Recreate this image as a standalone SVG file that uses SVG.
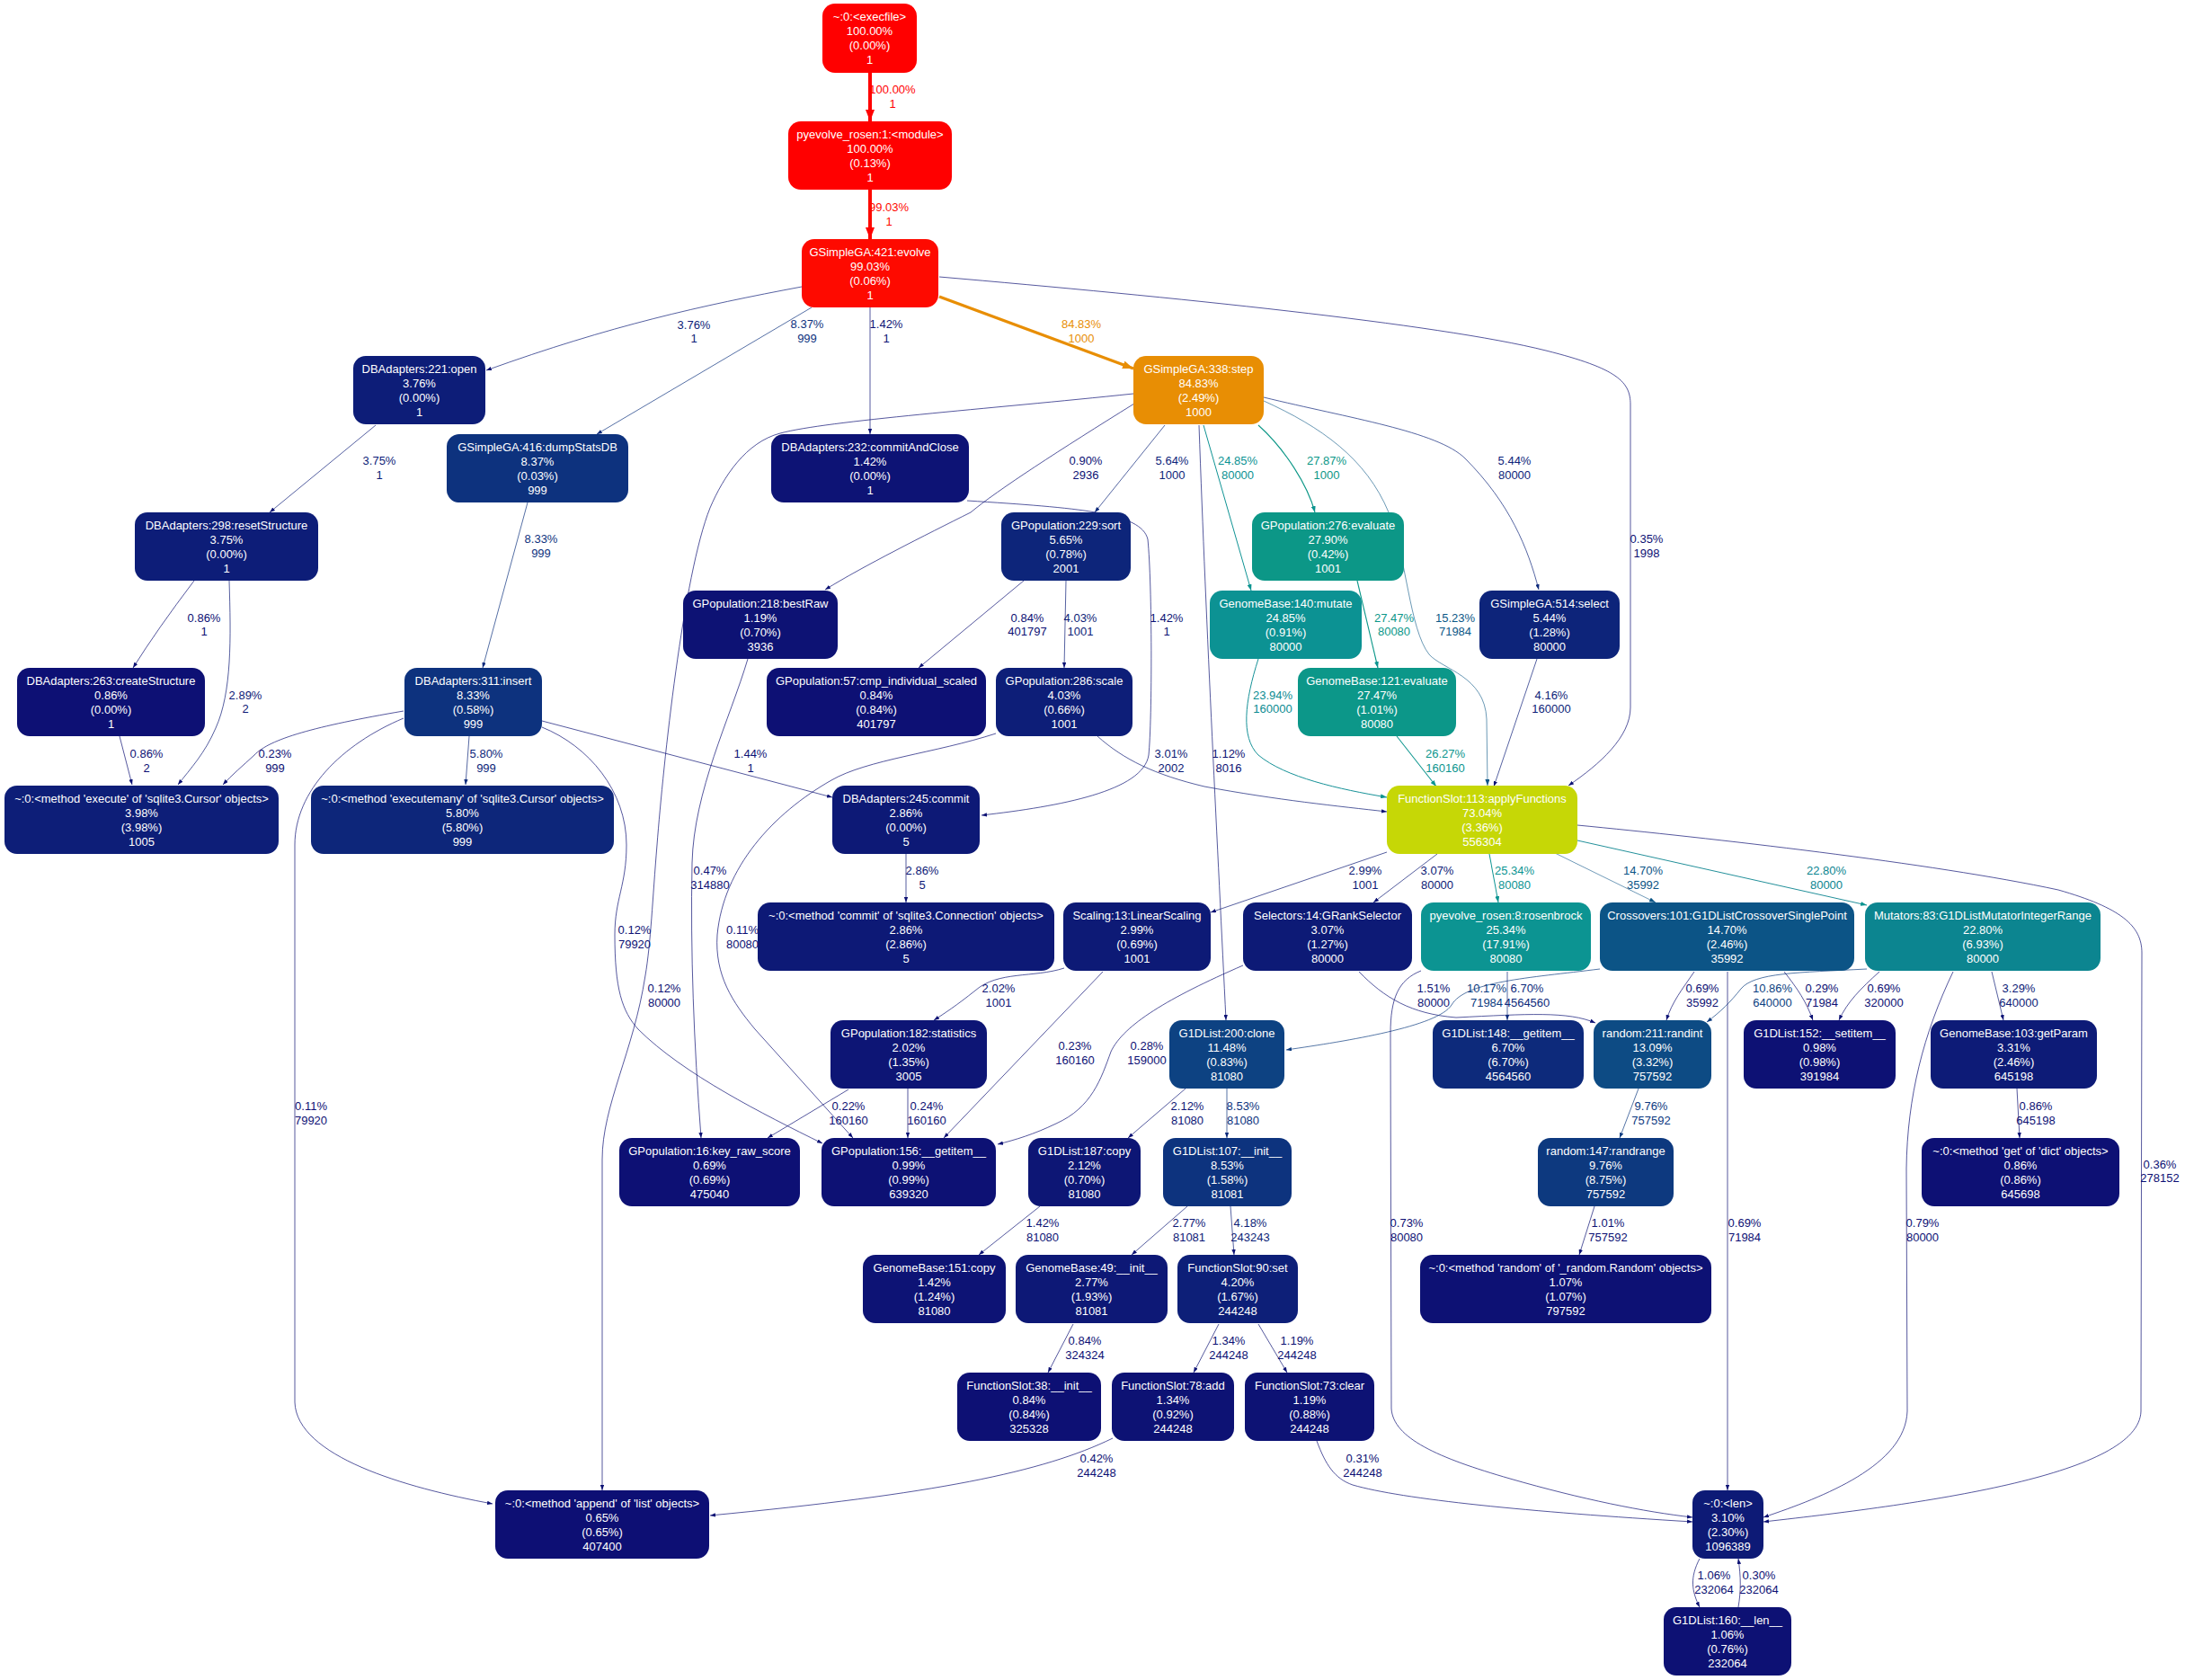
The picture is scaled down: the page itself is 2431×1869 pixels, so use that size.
<svg xmlns="http://www.w3.org/2000/svg" width="2431" height="1869" viewBox="0 0 2431 1869">
<style>
.n text{font-family:"Liberation Sans",Arial,sans-serif;font-size:13px;fill:#ffffff;text-anchor:middle}
.e path{fill:none}
.e text{font-family:"Liberation Sans",Arial,sans-serif;font-size:13px;text-anchor:middle}
</style>
<defs>
<marker id="aR" markerUnits="userSpaceOnUse" markerWidth="14" markerHeight="10" refX="13" refY="5" orient="auto"><path d="M0,0L13,5L0,10z" fill="#ff0000"/></marker>
<marker id="aO" markerUnits="userSpaceOnUse" markerWidth="12" markerHeight="9" refX="12" refY="4.5" orient="auto"><path d="M0,0L12,4.5L0,9z" fill="#e88e04"/></marker>
<marker id="aT" markerUnits="userSpaceOnUse" markerWidth="7" markerHeight="5" refX="7" refY="2.5" orient="auto"><path d="M0,0L7,2.5L0,5z" fill="#0c9490"/></marker>
<marker id="aTB" markerUnits="userSpaceOnUse" markerWidth="7" markerHeight="5" refX="7" refY="2.5" orient="auto"><path d="M0,0L7,2.5L0,5z" fill="#0c5586"/></marker>
<marker id="aB" markerUnits="userSpaceOnUse" markerWidth="6" markerHeight="4.4" refX="6" refY="2.2" orient="auto"><path d="M0,0L6,2.2L0,4.4z" fill="#0d1274"/></marker>
<marker id="aB2" markerUnits="userSpaceOnUse" markerWidth="6" markerHeight="4.4" refX="6" refY="2.2" orient="auto"><path d="M0,0L6,2.2L0,4.4z" fill="#0d2a7b"/></marker>
<marker id="aB3" markerUnits="userSpaceOnUse" markerWidth="6" markerHeight="4.4" refX="6" refY="2.2" orient="auto"><path d="M0,0L6,2.2L0,4.4z" fill="#0d3c80"/></marker>
</defs>
<rect x="0" y="0" width="2431" height="1869" fill="#ffffff"/>
<g id="edges" class="e">
<g id="e1"><path d="M968,81 L968,135" stroke="#ff0000" stroke-width="4" marker-end="url(#aR)"/><text x="993" y="104" fill="#ff0000">100.00%</text><text x="993" y="120" fill="#ff0000">1</text></g>
<g id="e2"><path d="M968,211 L968,266" stroke="#fe0a00" stroke-width="3.96" marker-end="url(#aR)"/><text x="989" y="235" fill="#fe0a00">99.03%</text><text x="989" y="251" fill="#fe0a00">1</text></g>
<g id="e3"><path d="M1045,330 L1261,410" stroke="#e88e04" stroke-width="3.39" marker-end="url(#aO)"/><text x="1203" y="365" fill="#e88e04">84.83%</text><text x="1203" y="381" fill="#e88e04">1000</text></g>
<g id="e4"><path d="M892,319 C780,340 680,362 541,412" stroke="#0d1d78" stroke-width="0.7" marker-end="url(#aB)"/><text x="772" y="366" fill="#0d1d78">3.76%</text><text x="772" y="381" fill="#0d1d78">1</text></g>
<g id="e5"><path d="M903,342 L664,483" stroke="#0d327e" stroke-width="0.7" marker-end="url(#aB2)"/><text x="898" y="365" fill="#0d327e">8.37%</text><text x="898" y="381" fill="#0d327e">999</text></g>
<g id="e6"><path d="M968,342 L968,483" stroke="#0d1375" stroke-width="0.7" marker-end="url(#aB)"/><text x="986" y="365" fill="#0d1375">1.42%</text><text x="986" y="381" fill="#0d1375">1</text></g>
<g id="e7"><path d="M1045,308 C1300,330 1600,360 1720,390 C1800,410 1814,425 1814,450 L1814,787 C1814,820 1780,850 1745,874" stroke="#0d1074" stroke-width="0.7" marker-end="url(#aB)"/><text x="1832" y="604" fill="#0d1074">0.35%</text><text x="1832" y="620" fill="#0d1074">1998</text></g>
<g id="e8"><path d="M418,473 L300,570" stroke="#0d1d78" stroke-width="0.7" marker-end="url(#aB)"/><text x="422" y="517" fill="#0d1d78">3.75%</text><text x="422" y="533" fill="#0d1d78">1</text></g>
<g id="e9"><path d="M587,559 L537,743" stroke="#0d327e" stroke-width="0.7" marker-end="url(#aB2)"/><text x="602" y="604" fill="#0d327e">8.33%</text><text x="602" y="620" fill="#0d327e">999</text></g>
<g id="e10"><path d="M1262,449 C1180,500 1110,545 1080,570 C1030,595 960,630 918,656" stroke="#0d1174" stroke-width="0.7" marker-end="url(#aB)"/><text x="1208" y="517" fill="#0d1174">0.90%</text><text x="1208" y="533" fill="#0d1174">2936</text></g>
<g id="e11"><path d="M1296,473 L1218,570" stroke="#0d257a" stroke-width="0.7" marker-end="url(#aB2)"/><text x="1304" y="517" fill="#0d257a">5.64%</text><text x="1304" y="533" fill="#0d257a">1000</text></g>
<g id="e12"><path d="M1339,473 L1392,657" stroke="#0c9293" stroke-width="0.99" marker-end="url(#aT)"/><text x="1377" y="517" fill="#0c9293">24.85%</text><text x="1377" y="533" fill="#0c9293">80000</text></g>
<g id="e13"><path d="M1400,473 C1430,500 1455,540 1463,570" stroke="#0c9787" stroke-width="1.11" marker-end="url(#aT)"/><text x="1476" y="517" fill="#0c9787">27.87%</text><text x="1476" y="533" fill="#0c9787">1000</text></g>
<g id="e14"><path d="M1406,442 C1500,465 1600,480 1630,510 C1680,560 1700,610 1712,656" stroke="#0d247a" stroke-width="0.7" marker-end="url(#aB2)"/><text x="1685" y="517" fill="#0d247a">5.44%</text><text x="1685" y="533" fill="#0d247a">80000</text></g>
<g id="e15"><path d="M1076,557 C1200,565 1270,570 1277,600 C1282,650 1282,800 1278,840 C1272,880 1180,897 1092,907" stroke="#0d1375" stroke-width="0.7" marker-end="url(#aB)"/><text x="1298" y="692" fill="#0d1375">1.42%</text><text x="1298" y="707" fill="#0d1375">1</text></g>
<g id="e16"><path d="M216,646 Q175,700 148,743" stroke="#0d1074" stroke-width="0.7" marker-end="url(#aB)"/><text x="227" y="692" fill="#0d1074">0.86%</text><text x="227" y="707" fill="#0d1074">1</text></g>
<g id="e17"><path d="M255,646 C257,710 258,770 240,810 C228,838 212,855 198,873" stroke="#0d1976" stroke-width="0.7" marker-end="url(#aB)"/><text x="273" y="778" fill="#0d1976">2.89%</text><text x="273" y="793" fill="#0d1976">2</text></g>
<g id="e18"><path d="M1139,646 L1022,743" stroke="#0d1074" stroke-width="0.7" marker-end="url(#aB)"/><text x="1143" y="692" fill="#0d1074">0.84%</text><text x="1143" y="707" fill="#0d1074">401797</text></g>
<g id="e19"><path d="M1186,646 L1184,743" stroke="#0d1e78" stroke-width="0.7" marker-end="url(#aB)"/><text x="1202" y="692" fill="#0d1e78">4.03%</text><text x="1202" y="707" fill="#0d1e78">1001</text></g>
<g id="e20"><path d="M1334,473 C1342,700 1355,950 1364,1135" stroke="#0d1274" stroke-width="0.7" marker-end="url(#aB)"/><text x="1367" y="843" fill="#0d1274">1.12%</text><text x="1367" y="859" fill="#0d1274">8016</text></g>
<g id="e21"><path d="M1510,646 L1533,743" stroke="#0c9789" stroke-width="1.1" marker-end="url(#aT)"/><text x="1551" y="692" fill="#0c9789">27.47%</text><text x="1551" y="707" fill="#0c9789">80080</text></g>
<g id="e22"><path d="M1406,446 C1470,475 1520,510 1545,570 C1565,620 1568,700 1590,728 C1605,745 1652,752 1654,800 L1655,874" stroke="#0c5786" stroke-width="0.61" marker-end="url(#aTB)"/><text x="1619" y="692" fill="#0c5786">15.23%</text><text x="1619" y="707" fill="#0c5786">71984</text></g>
<g id="e23"><path d="M1400,733 C1385,780 1380,820 1400,840 C1430,865 1490,878 1543,887" stroke="#0c8c92" stroke-width="0.96" marker-end="url(#aT)"/><text x="1416" y="778" fill="#0c8c92">23.94%</text><text x="1416" y="793" fill="#0c8c92">160000</text></g>
<g id="e24"><path d="M1710,733 L1662,875" stroke="#0d1e78" stroke-width="0.7" marker-end="url(#aB)"/><text x="1726" y="778" fill="#0d1e78">4.16%</text><text x="1726" y="793" fill="#0d1e78">160000</text></g>
<g id="e25"><path d="M133,819 L147,873" stroke="#0d1074" stroke-width="0.7" marker-end="url(#aB)"/><text x="163" y="843" fill="#0d1074">0.86%</text><text x="163" y="859" fill="#0d1074">2</text></g>
<g id="e26"><path d="M449,791 C350,808 300,822 283,840 C270,852 258,862 248,873" stroke="#0d1074" stroke-width="0.7" marker-end="url(#aB)"/><text x="306" y="843" fill="#0d1074">0.23%</text><text x="306" y="859" fill="#0d1074">999</text></g>
<g id="e27"><path d="M522,819 L518,873" stroke="#0d267a" stroke-width="0.7" marker-end="url(#aB2)"/><text x="541" y="843" fill="#0d267a">5.80%</text><text x="541" y="859" fill="#0d267a">999</text></g>
<g id="e28"><path d="M603,802 L926,887" stroke="#0d1375" stroke-width="0.7" marker-end="url(#aB)"/><text x="835" y="843" fill="#0d1375">1.44%</text><text x="835" y="859" fill="#0d1375">1</text></g>
<g id="e29"><path d="M1221,819 C1250,845 1285,862 1340,875 C1420,890 1490,897 1543,903" stroke="#0d1a76" stroke-width="0.7" marker-end="url(#aB)"/><text x="1303" y="843" fill="#0d1a76">3.01%</text><text x="1303" y="859" fill="#0d1a76">2002</text></g>
<g id="e30"><path d="M1554,819 L1598,875" stroke="#0c958e" stroke-width="1.05" marker-end="url(#aT)"/><text x="1608" y="843" fill="#0c958e">26.27%</text><text x="1608" y="859" fill="#0c958e">160160</text></g>
<g id="e31"><path d="M832,733 C812,800 772,880 770,960 C768,1060 772,1160 780,1266" stroke="#0d1074" stroke-width="0.7" marker-end="url(#aB)"/><text x="790" y="973" fill="#0d1074">0.47%</text><text x="790" y="989" fill="#0d1074">314880</text></g>
<g id="e32"><path d="M603,809 C655,830 697,880 697,940 C697,985 684,1000 684,1040 C684,1100 692,1125 710,1145 C760,1195 850,1240 915,1272" stroke="#0d1074" stroke-width="0.7" marker-end="url(#aB)"/><text x="706" y="1039" fill="#0d1074">0.12%</text><text x="706" y="1055" fill="#0d1074">79920</text></g>
<g id="e33"><path d="M1261,438 C1100,455 920,468 868,482 C830,492 805,530 790,565 C760,640 738,850 731,940 C726,1000 724,1050 718,1085 C705,1170 670,1230 670,1290 L670,1658" stroke="#0d1074" stroke-width="0.7" marker-end="url(#aB)"/><text x="739" y="1104" fill="#0d1074">0.12%</text><text x="739" y="1120" fill="#0d1074">80000</text></g>
<g id="e34"><path d="M1108,816 C1040,838 965,845 925,868 C860,905 805,965 798,1040 C795,1085 815,1115 840,1145 L949,1266" stroke="#0d1074" stroke-width="0.7" marker-end="url(#aB)"/><text x="826" y="1039" fill="#0d1074">0.11%</text><text x="826" y="1055" fill="#0d1074">80080</text></g>
<g id="e35"><path d="M449,799 C380,828 328,880 328,940 L328,1560 C330,1620 450,1655 548,1673" stroke="#0d1074" stroke-width="0.7" marker-end="url(#aB)"/><text x="346" y="1235" fill="#0d1074">0.11%</text><text x="346" y="1251" fill="#0d1074">79920</text></g>
<g id="e36"><path d="M1008,950 L1008,1004" stroke="#0d1976" stroke-width="0.7" marker-end="url(#aB)"/><text x="1026" y="973" fill="#0d1976">2.86%</text><text x="1026" y="989" fill="#0d1976">5</text></g>
<g id="e37"><path d="M1543,948 L1347,1015" stroke="#0d1a76" stroke-width="0.7" marker-end="url(#aB)"/><text x="1519" y="973" fill="#0d1a76">2.99%</text><text x="1519" y="989" fill="#0d1a76">1001</text></g>
<g id="e38"><path d="M1599,950 L1528,1004" stroke="#0d1a76" stroke-width="0.7" marker-end="url(#aB)"/><text x="1599" y="973" fill="#0d1a76">3.07%</text><text x="1599" y="989" fill="#0d1a76">80000</text></g>
<g id="e39"><path d="M1657,950 L1667,1004" stroke="#0c9492" stroke-width="1.01" marker-end="url(#aT)"/><text x="1685" y="973" fill="#0c9492">25.34%</text><text x="1685" y="989" fill="#0c9492">80080</text></g>
<g id="e40"><path d="M1728,948 L1842,1004" stroke="#0c5486" stroke-width="0.59" marker-end="url(#aTB)"/><text x="1828" y="973" fill="#0c5486">14.70%</text><text x="1828" y="989" fill="#0c5486">35992</text></g>
<g id="e41"><path d="M1755,935 L2077,1007" stroke="#0c8590" stroke-width="0.91" marker-end="url(#aT)"/><text x="2032" y="973" fill="#0c8590">22.80%</text><text x="2032" y="989" fill="#0c8590">80000</text></g>
<g id="e42"><path d="M1184,1077 C1150,1088 1110,1080 1085,1102 C1065,1118 1050,1128 1039,1135" stroke="#0d1575" stroke-width="0.7" marker-end="url(#aB)"/><text x="1111" y="1104" fill="#0d1575">2.02%</text><text x="1111" y="1120" fill="#0d1575">1001</text></g>
<g id="e43"><path d="M1227,1081 L1050,1266" stroke="#0d1074" stroke-width="0.7" marker-end="url(#aB)"/><text x="1196" y="1168" fill="#0d1074">0.23%</text><text x="1196" y="1184" fill="#0d1074">160160</text></g>
<g id="e44"><path d="M1383,1074 C1300,1110 1250,1140 1236,1170 C1225,1200 1215,1232 1175,1250 C1150,1262 1130,1268 1110,1273" stroke="#0d1074" stroke-width="0.7" marker-end="url(#aB)"/><text x="1276" y="1168" fill="#0d1074">0.28%</text><text x="1276" y="1184" fill="#0d1074">159000</text></g>
<g id="e45"><path d="M1512,1081 C1540,1110 1570,1128 1620,1132 C1700,1128 1745,1125 1775,1138" stroke="#0d1375" stroke-width="0.7" marker-end="url(#aB)"/><text x="1595" y="1104" fill="#0d1375">1.51%</text><text x="1595" y="1120" fill="#0d1375">80000</text></g>
<g id="e46"><path d="M1780,1078 C1700,1088 1630,1092 1615,1118 C1600,1142 1500,1158 1431,1168" stroke="#0d3c80" stroke-width="0.7" marker-end="url(#aB3)"/><text x="1654" y="1104" fill="#0d3c80">10.17%</text><text x="1654" y="1120" fill="#0d3c80">71984</text></g>
<g id="e47"><path d="M1677,1081 L1677,1135" stroke="#0d2a7b" stroke-width="0.7" marker-end="url(#aB2)"/><text x="1699" y="1104" fill="#0d2a7b">6.70%</text><text x="1699" y="1120" fill="#0d2a7b">4564560</text></g>
<g id="e48"><path d="M1885,1081 C1872,1100 1860,1115 1854,1135" stroke="#0d1074" stroke-width="0.7" marker-end="url(#aB)"/><text x="1894" y="1104" fill="#0d1074">0.69%</text><text x="1894" y="1120" fill="#0d1074">35992</text></g>
<g id="e49"><path d="M2077,1078 C2000,1082 1952,1082 1937,1100 C1925,1115 1915,1125 1899,1137" stroke="#0d3f81" stroke-width="0.7" marker-end="url(#aB3)"/><text x="1972" y="1104" fill="#0d3f81">10.86%</text><text x="1972" y="1120" fill="#0d3f81">640000</text></g>
<g id="e50"><path d="M1985,1081 C2000,1100 2010,1115 2017,1135" stroke="#0d1074" stroke-width="0.7" marker-end="url(#aB)"/><text x="2027" y="1104" fill="#0d1074">0.29%</text><text x="2027" y="1120" fill="#0d1074">71984</text></g>
<g id="e51"><path d="M2091,1081 C2070,1100 2055,1115 2046,1135" stroke="#0d1074" stroke-width="0.7" marker-end="url(#aB)"/><text x="2096" y="1104" fill="#0d1074">0.69%</text><text x="2096" y="1120" fill="#0d1074">320000</text></g>
<g id="e52"><path d="M2216,1081 L2229,1135" stroke="#0d1b77" stroke-width="0.7" marker-end="url(#aB)"/><text x="2246" y="1104" fill="#0d1b77">3.29%</text><text x="2246" y="1120" fill="#0d1b77">640000</text></g>
<g id="e53"><path d="M944,1212 L854,1266" stroke="#0d1074" stroke-width="0.7" marker-end="url(#aB)"/><text x="944" y="1235" fill="#0d1074">0.22%</text><text x="944" y="1251" fill="#0d1074">160160</text></g>
<g id="e54"><path d="M1010,1211 L1010,1266" stroke="#0d1074" stroke-width="0.7" marker-end="url(#aB)"/><text x="1031" y="1235" fill="#0d1074">0.24%</text><text x="1031" y="1251" fill="#0d1074">160160</text></g>
<g id="e55"><path d="M1319,1211 L1255,1266" stroke="#0d1675" stroke-width="0.7" marker-end="url(#aB)"/><text x="1321" y="1235" fill="#0d1675">2.12%</text><text x="1321" y="1251" fill="#0d1675">81080</text></g>
<g id="e56"><path d="M1365,1211 L1365,1266" stroke="#0d337e" stroke-width="0.7" marker-end="url(#aB2)"/><text x="1383" y="1235" fill="#0d337e">8.53%</text><text x="1383" y="1251" fill="#0d337e">81080</text></g>
<g id="e57"><path d="M1823,1211 L1802,1266" stroke="#0d397f" stroke-width="0.7" marker-end="url(#aB3)"/><text x="1837" y="1235" fill="#0d397f">9.76%</text><text x="1837" y="1251" fill="#0d397f">757592</text></g>
<g id="e58"><path d="M2244,1211 L2247,1266" stroke="#0d1074" stroke-width="0.7" marker-end="url(#aB)"/><text x="2265" y="1235" fill="#0d1074">0.86%</text><text x="2265" y="1251" fill="#0d1074">645198</text></g>
<g id="e59"><path d="M1157,1342 L1089,1396" stroke="#0d1375" stroke-width="0.7" marker-end="url(#aB)"/><text x="1160" y="1365" fill="#0d1375">1.42%</text><text x="1160" y="1381" fill="#0d1375">81080</text></g>
<g id="e60"><path d="M1321,1342 L1259,1396" stroke="#0d1876" stroke-width="0.7" marker-end="url(#aB)"/><text x="1323" y="1365" fill="#0d1876">2.77%</text><text x="1323" y="1381" fill="#0d1876">81081</text></g>
<g id="e61"><path d="M1369,1342 L1373,1396" stroke="#0d1f78" stroke-width="0.7" marker-end="url(#aB)"/><text x="1391" y="1365" fill="#0d1f78">4.18%</text><text x="1391" y="1381" fill="#0d1f78">243243</text></g>
<g id="e62"><path d="M1774,1342 L1757,1396" stroke="#0d1274" stroke-width="0.7" marker-end="url(#aB)"/><text x="1789" y="1365" fill="#0d1274">1.01%</text><text x="1789" y="1381" fill="#0d1274">757592</text></g>
<g id="e63"><path d="M1581,1080 C1556,1090 1547,1110 1547,1150 L1548,1567 C1550,1600 1600,1622 1680,1645 C1760,1668 1830,1682 1883,1688" stroke="#0d1074" stroke-width="0.7" marker-end="url(#aB)"/><text x="1565" y="1365" fill="#0d1074">0.73%</text><text x="1565" y="1381" fill="#0d1074">80080</text></g>
<g id="e64"><path d="M1922,1081 L1922,1658" stroke="#0d1074" stroke-width="0.7" marker-end="url(#aB)"/><text x="1941" y="1365" fill="#0d1074">0.69%</text><text x="1941" y="1381" fill="#0d1074">71984</text></g>
<g id="e65"><path d="M2173,1081 C2140,1150 2122,1220 2121,1300 L2122,1570 C2120,1630 2030,1665 1962,1688" stroke="#0d1074" stroke-width="0.7" marker-end="url(#aB)"/><text x="2139" y="1365" fill="#0d1074">0.79%</text><text x="2139" y="1381" fill="#0d1074">80000</text></g>
<g id="e66"><path d="M1755,918 C1900,932 2150,960 2290,990 C2360,1010 2383,1030 2383,1060 L2382,1570 C2380,1640 2150,1672 1962,1693" stroke="#0d1074" stroke-width="0.7" marker-end="url(#aB)"/><text x="2403" y="1300" fill="#0d1074">0.36%</text><text x="2403" y="1315" fill="#0d1074">278152</text></g>
<g id="e67"><path d="M1194,1473 L1166,1527" stroke="#0d1074" stroke-width="0.7" marker-end="url(#aB)"/><text x="1207" y="1496" fill="#0d1074">0.84%</text><text x="1207" y="1512" fill="#0d1074">324324</text></g>
<g id="e68"><path d="M1356,1473 L1328,1527" stroke="#0d1274" stroke-width="0.7" marker-end="url(#aB)"/><text x="1367" y="1496" fill="#0d1274">1.34%</text><text x="1367" y="1512" fill="#0d1274">244248</text></g>
<g id="e69"><path d="M1400,1473 L1432,1527" stroke="#0d1274" stroke-width="0.7" marker-end="url(#aB)"/><text x="1443" y="1496" fill="#0d1274">1.19%</text><text x="1443" y="1512" fill="#0d1274">244248</text></g>
<g id="e70"><path d="M1238,1600 C1160,1638 1040,1662 790,1686" stroke="#0d1074" stroke-width="0.7" marker-end="url(#aB)"/><text x="1220" y="1627" fill="#0d1074">0.42%</text><text x="1220" y="1643" fill="#0d1074">244248</text></g>
<g id="e71"><path d="M1465,1603 C1475,1630 1485,1645 1505,1652 C1560,1668 1700,1682 1883,1693" stroke="#0d1074" stroke-width="0.7" marker-end="url(#aB)"/><text x="1516" y="1627" fill="#0d1074">0.31%</text><text x="1516" y="1643" fill="#0d1074">244248</text></g>
<g id="e72"><path d="M1891,1734 C1880,1755 1882,1770 1891,1788" stroke="#0d1274" stroke-width="0.7" marker-end="url(#aB)"/><text x="1907" y="1757" fill="#0d1274">1.06%</text><text x="1907" y="1773" fill="#0d1274">232064</text></g>
<g id="e73"><path d="M1934,1788 C1937,1770 1937,1755 1934,1734" stroke="#0d1074" stroke-width="0.7" marker-end="url(#aB)"/><text x="1957" y="1757" fill="#0d1074">0.30%</text><text x="1957" y="1773" fill="#0d1074">232064</text></g>
</g>
<g id="nodes" class="n">
<g id="n_execfile"><rect x="915" y="4" width="105" height="77" rx="14" fill="#ff0000"/><text x="967.5" y="22.5">~:0:&lt;execfile&gt;</text><text x="967.5" y="38.5">100.00%</text><text x="967.5" y="54.5">(0.00%)</text><text x="967.5" y="70.5">1</text></g>
<g id="n_module"><rect x="877" y="135" width="182" height="76" rx="14" fill="#ff0000"/><text x="968" y="153.5">pyevolve_rosen:1:&lt;module&gt;</text><text x="968" y="169.5">100.00%</text><text x="968" y="185.5">(0.13%)</text><text x="968" y="201.5">1</text></g>
<g id="n_evolve"><rect x="892" y="266" width="152" height="76" rx="14" fill="#fe0a00"/><text x="968" y="284.5">GSimpleGA:421:evolve</text><text x="968" y="300.5">99.03%</text><text x="968" y="316.5">(0.06%)</text><text x="968" y="332.5">1</text></g>
<g id="n_open"><rect x="393" y="396" width="147" height="76" rx="14" fill="#0d1d78"/><text x="466.5" y="414.5">DBAdapters:221:open</text><text x="466.5" y="430.5">3.76%</text><text x="466.5" y="446.5">(0.00%)</text><text x="466.5" y="462.5">1</text></g>
<g id="n_step"><rect x="1261" y="396" width="145" height="76" rx="14" fill="#e88e04"/><text x="1333.5" y="414.5">GSimpleGA:338:step</text><text x="1333.5" y="430.5">84.83%</text><text x="1333.5" y="446.5">(2.49%)</text><text x="1333.5" y="462.5">1000</text></g>
<g id="n_dumpStatsDB"><rect x="497" y="483" width="202" height="76" rx="14" fill="#0d327e"/><text x="598" y="501.5">GSimpleGA:416:dumpStatsDB</text><text x="598" y="517.5">8.37%</text><text x="598" y="533.5">(0.03%)</text><text x="598" y="549.5">999</text></g>
<g id="n_commitAndClose"><rect x="858" y="483" width="220" height="76" rx="14" fill="#0d1375"/><text x="968" y="501.5">DBAdapters:232:commitAndClose</text><text x="968" y="517.5">1.42%</text><text x="968" y="533.5">(0.00%)</text><text x="968" y="549.5">1</text></g>
<g id="n_resetStructure"><rect x="150" y="570" width="204" height="76" rx="14" fill="#0d1d78"/><text x="252" y="588.5">DBAdapters:298:resetStructure</text><text x="252" y="604.5">3.75%</text><text x="252" y="620.5">(0.00%)</text><text x="252" y="636.5">1</text></g>
<g id="n_sort"><rect x="1114" y="570" width="144" height="76" rx="14" fill="#0d257a"/><text x="1186" y="588.5">GPopulation:229:sort</text><text x="1186" y="604.5">5.65%</text><text x="1186" y="620.5">(0.78%)</text><text x="1186" y="636.5">2001</text></g>
<g id="n_gp276"><rect x="1393" y="570" width="169" height="76" rx="14" fill="#0c9787"/><text x="1477.5" y="588.5">GPopulation:276:evaluate</text><text x="1477.5" y="604.5">27.90%</text><text x="1477.5" y="620.5">(0.42%)</text><text x="1477.5" y="636.5">1001</text></g>
<g id="n_bestRaw"><rect x="760" y="657" width="172" height="76" rx="14" fill="#0d1274"/><text x="846" y="675.5">GPopulation:218:bestRaw</text><text x="846" y="691.5">1.19%</text><text x="846" y="707.5">(0.70%)</text><text x="846" y="723.5">3936</text></g>
<g id="n_mutate"><rect x="1346" y="657" width="169" height="76" rx="14" fill="#0c9293"/><text x="1430.5" y="675.5">GenomeBase:140:mutate</text><text x="1430.5" y="691.5">24.85%</text><text x="1430.5" y="707.5">(0.91%)</text><text x="1430.5" y="723.5">80000</text></g>
<g id="n_select"><rect x="1646" y="657" width="156" height="76" rx="14" fill="#0d247a"/><text x="1724" y="675.5">GSimpleGA:514:select</text><text x="1724" y="691.5">5.44%</text><text x="1724" y="707.5">(1.28%)</text><text x="1724" y="723.5">80000</text></g>
<g id="n_createStructure"><rect x="19" y="743" width="209" height="76" rx="14" fill="#0d1074"/><text x="123.5" y="761.5">DBAdapters:263:createStructure</text><text x="123.5" y="777.5">0.86%</text><text x="123.5" y="793.5">(0.00%)</text><text x="123.5" y="809.5">1</text></g>
<g id="n_insert"><rect x="450" y="743" width="153" height="76" rx="14" fill="#0d327e"/><text x="526.5" y="761.5">DBAdapters:311:insert</text><text x="526.5" y="777.5">8.33%</text><text x="526.5" y="793.5">(0.58%)</text><text x="526.5" y="809.5">999</text></g>
<g id="n_cmp"><rect x="853" y="743" width="244" height="76" rx="14" fill="#0d1074"/><text x="975" y="761.5">GPopulation:57:cmp_individual_scaled</text><text x="975" y="777.5">0.84%</text><text x="975" y="793.5">(0.84%)</text><text x="975" y="809.5">401797</text></g>
<g id="n_scale"><rect x="1108" y="743" width="152" height="76" rx="14" fill="#0d1e78"/><text x="1184" y="761.5">GPopulation:286:scale</text><text x="1184" y="777.5">4.03%</text><text x="1184" y="793.5">(0.66%)</text><text x="1184" y="809.5">1001</text></g>
<g id="n_gb121"><rect x="1444" y="743" width="176" height="76" rx="14" fill="#0c9789"/><text x="1532" y="761.5">GenomeBase:121:evaluate</text><text x="1532" y="777.5">27.47%</text><text x="1532" y="793.5">(1.01%)</text><text x="1532" y="809.5">80080</text></g>
<g id="n_execute"><rect x="5" y="874" width="305" height="76" rx="14" fill="#0d1e78"/><text x="157.5" y="892.5">~:0:&lt;method 'execute' of 'sqlite3.Cursor' objects&gt;</text><text x="157.5" y="908.5">3.98%</text><text x="157.5" y="924.5">(3.98%)</text><text x="157.5" y="940.5">1005</text></g>
<g id="n_executemany"><rect x="346" y="874" width="337" height="76" rx="14" fill="#0d267a"/><text x="514.5" y="892.5">~:0:&lt;method 'executemany' of 'sqlite3.Cursor' objects&gt;</text><text x="514.5" y="908.5">5.80%</text><text x="514.5" y="924.5">(5.80%)</text><text x="514.5" y="940.5">999</text></g>
<g id="n_commit245"><rect x="926" y="874" width="164" height="76" rx="14" fill="#0d1976"/><text x="1008" y="892.5">DBAdapters:245:commit</text><text x="1008" y="908.5">2.86%</text><text x="1008" y="924.5">(0.00%)</text><text x="1008" y="940.5">5</text></g>
<g id="n_applyFunctions"><rect x="1543" y="874" width="212" height="76" rx="14" fill="#c6d706"/><text x="1649" y="892.5">FunctionSlot:113:applyFunctions</text><text x="1649" y="908.5">73.04%</text><text x="1649" y="924.5">(3.36%)</text><text x="1649" y="940.5">556304</text></g>
<g id="n_commitConn"><rect x="843" y="1004" width="330" height="76" rx="14" fill="#0d1976"/><text x="1008" y="1022.5">~:0:&lt;method 'commit' of 'sqlite3.Connection' objects&gt;</text><text x="1008" y="1038.5">2.86%</text><text x="1008" y="1054.5">(2.86%)</text><text x="1008" y="1070.5">5</text></g>
<g id="n_linearScaling"><rect x="1183" y="1004" width="164" height="76" rx="14" fill="#0d1a76"/><text x="1265" y="1022.5">Scaling:13:LinearScaling</text><text x="1265" y="1038.5">2.99%</text><text x="1265" y="1054.5">(0.69%)</text><text x="1265" y="1070.5">1001</text></g>
<g id="n_grank"><rect x="1383" y="1004" width="188" height="76" rx="14" fill="#0d1a76"/><text x="1477" y="1022.5">Selectors:14:GRankSelector</text><text x="1477" y="1038.5">3.07%</text><text x="1477" y="1054.5">(1.27%)</text><text x="1477" y="1070.5">80000</text></g>
<g id="n_rosenbrock"><rect x="1581" y="1004" width="189" height="76" rx="14" fill="#0c9492"/><text x="1675.5" y="1022.5">pyevolve_rosen:8:rosenbrock</text><text x="1675.5" y="1038.5">25.34%</text><text x="1675.5" y="1054.5">(17.91%)</text><text x="1675.5" y="1070.5">80080</text></g>
<g id="n_crossovers"><rect x="1780" y="1004" width="283" height="76" rx="14" fill="#0c5486"/><text x="1921.5" y="1022.5">Crossovers:101:G1DListCrossoverSinglePoint</text><text x="1921.5" y="1038.5">14.70%</text><text x="1921.5" y="1054.5">(2.46%)</text><text x="1921.5" y="1070.5">35992</text></g>
<g id="n_mutators"><rect x="2075" y="1004" width="262" height="76" rx="14" fill="#0c8590"/><text x="2206" y="1022.5">Mutators:83:G1DListMutatorIntegerRange</text><text x="2206" y="1038.5">22.80%</text><text x="2206" y="1054.5">(6.93%)</text><text x="2206" y="1070.5">80000</text></g>
<g id="n_statistics"><rect x="924" y="1135" width="174" height="76" rx="14" fill="#0d1575"/><text x="1011" y="1153.5">GPopulation:182:statistics</text><text x="1011" y="1169.5">2.02%</text><text x="1011" y="1185.5">(1.35%)</text><text x="1011" y="1201.5">3005</text></g>
<g id="n_clone"><rect x="1301" y="1135" width="128" height="76" rx="14" fill="#0d4282"/><text x="1365" y="1153.5">G1DList:200:clone</text><text x="1365" y="1169.5">11.48%</text><text x="1365" y="1185.5">(0.83%)</text><text x="1365" y="1201.5">81080</text></g>
<g id="n_getitem148"><rect x="1594" y="1135" width="168" height="76" rx="14" fill="#0d2a7b"/><text x="1678" y="1153.5">G1DList:148:__getitem__</text><text x="1678" y="1169.5">6.70%</text><text x="1678" y="1185.5">(6.70%)</text><text x="1678" y="1201.5">4564560</text></g>
<g id="n_randint"><rect x="1773" y="1135" width="131" height="76" rx="14" fill="#0d4b84"/><text x="1838.5" y="1153.5">random:211:randint</text><text x="1838.5" y="1169.5">13.09%</text><text x="1838.5" y="1185.5">(3.32%)</text><text x="1838.5" y="1201.5">757592</text></g>
<g id="n_setitem"><rect x="1940" y="1135" width="169" height="76" rx="14" fill="#0d1174"/><text x="2024.5" y="1153.5">G1DList:152:__setitem__</text><text x="2024.5" y="1169.5">0.98%</text><text x="2024.5" y="1185.5">(0.98%)</text><text x="2024.5" y="1201.5">391984</text></g>
<g id="n_getParam"><rect x="2148" y="1135" width="185" height="76" rx="14" fill="#0d1b77"/><text x="2240.5" y="1153.5">GenomeBase:103:getParam</text><text x="2240.5" y="1169.5">3.31%</text><text x="2240.5" y="1185.5">(2.46%)</text><text x="2240.5" y="1201.5">645198</text></g>
<g id="n_keyraw"><rect x="689" y="1266" width="201" height="76" rx="14" fill="#0d1074"/><text x="789.5" y="1284.5">GPopulation:16:key_raw_score</text><text x="789.5" y="1300.5">0.69%</text><text x="789.5" y="1316.5">(0.69%)</text><text x="789.5" y="1332.5">475040</text></g>
<g id="n_gp156"><rect x="914" y="1266" width="194" height="76" rx="14" fill="#0d1174"/><text x="1011" y="1284.5">GPopulation:156:__getitem__</text><text x="1011" y="1300.5">0.99%</text><text x="1011" y="1316.5">(0.99%)</text><text x="1011" y="1332.5">639320</text></g>
<g id="n_copy187"><rect x="1144" y="1266" width="125" height="76" rx="14" fill="#0d1675"/><text x="1206.5" y="1284.5">G1DList:187:copy</text><text x="1206.5" y="1300.5">2.12%</text><text x="1206.5" y="1316.5">(0.70%)</text><text x="1206.5" y="1332.5">81080</text></g>
<g id="n_init107"><rect x="1294" y="1266" width="143" height="76" rx="14" fill="#0d337e"/><text x="1365.5" y="1284.5">G1DList:107:__init__</text><text x="1365.5" y="1300.5">8.53%</text><text x="1365.5" y="1316.5">(1.58%)</text><text x="1365.5" y="1332.5">81081</text></g>
<g id="n_randrange"><rect x="1711" y="1266" width="151" height="76" rx="14" fill="#0d397f"/><text x="1786.5" y="1284.5">random:147:randrange</text><text x="1786.5" y="1300.5">9.76%</text><text x="1786.5" y="1316.5">(8.75%)</text><text x="1786.5" y="1332.5">757592</text></g>
<g id="n_getdict"><rect x="2138" y="1266" width="220" height="76" rx="14" fill="#0d1074"/><text x="2248" y="1284.5">~:0:&lt;method 'get' of 'dict' objects&gt;</text><text x="2248" y="1300.5">0.86%</text><text x="2248" y="1316.5">(0.86%)</text><text x="2248" y="1332.5">645698</text></g>
<g id="n_gb151"><rect x="960" y="1396" width="159" height="76" rx="14" fill="#0d1375"/><text x="1039.5" y="1414.5">GenomeBase:151:copy</text><text x="1039.5" y="1430.5">1.42%</text><text x="1039.5" y="1446.5">(1.24%)</text><text x="1039.5" y="1462.5">81080</text></g>
<g id="n_gb49"><rect x="1130" y="1396" width="169" height="76" rx="14" fill="#0d1876"/><text x="1214.5" y="1414.5">GenomeBase:49:__init__</text><text x="1214.5" y="1430.5">2.77%</text><text x="1214.5" y="1446.5">(1.93%)</text><text x="1214.5" y="1462.5">81081</text></g>
<g id="n_fs90"><rect x="1310" y="1396" width="134" height="76" rx="14" fill="#0d1f78"/><text x="1377" y="1414.5">FunctionSlot:90:set</text><text x="1377" y="1430.5">4.20%</text><text x="1377" y="1446.5">(1.67%)</text><text x="1377" y="1462.5">244248</text></g>
<g id="n_methodRandom"><rect x="1580" y="1396" width="324" height="76" rx="14" fill="#0d1174"/><text x="1742" y="1414.5">~:0:&lt;method 'random' of '_random.Random' objects&gt;</text><text x="1742" y="1430.5">1.07%</text><text x="1742" y="1446.5">(1.07%)</text><text x="1742" y="1462.5">797592</text></g>
<g id="n_fs38"><rect x="1065" y="1527" width="160" height="76" rx="14" fill="#0d1074"/><text x="1145" y="1545.5">FunctionSlot:38:__init__</text><text x="1145" y="1561.5">0.84%</text><text x="1145" y="1577.5">(0.84%)</text><text x="1145" y="1593.5">325328</text></g>
<g id="n_fs78"><rect x="1237" y="1527" width="136" height="76" rx="14" fill="#0d1274"/><text x="1305" y="1545.5">FunctionSlot:78:add</text><text x="1305" y="1561.5">1.34%</text><text x="1305" y="1577.5">(0.92%)</text><text x="1305" y="1593.5">244248</text></g>
<g id="n_fs73"><rect x="1385" y="1527" width="144" height="76" rx="14" fill="#0d1274"/><text x="1457" y="1545.5">FunctionSlot:73:clear</text><text x="1457" y="1561.5">1.19%</text><text x="1457" y="1577.5">(0.88%)</text><text x="1457" y="1593.5">244248</text></g>
<g id="n_append"><rect x="551" y="1658" width="238" height="76" rx="14" fill="#0d0f74"/><text x="670" y="1676.5">~:0:&lt;method 'append' of 'list' objects&gt;</text><text x="670" y="1692.5">0.65%</text><text x="670" y="1708.5">(0.65%)</text><text x="670" y="1724.5">407400</text></g>
<g id="n_len"><rect x="1883" y="1658" width="79" height="76" rx="14" fill="#0d1a76"/><text x="1922.5" y="1676.5">~:0:&lt;len&gt;</text><text x="1922.5" y="1692.5">3.10%</text><text x="1922.5" y="1708.5">(2.30%)</text><text x="1922.5" y="1724.5">1096389</text></g>
<g id="n_g1dlen"><rect x="1851" y="1788" width="142" height="76" rx="14" fill="#0d1174"/><text x="1922" y="1806.5">G1DList:160:__len__</text><text x="1922" y="1822.5">1.06%</text><text x="1922" y="1838.5">(0.76%)</text><text x="1922" y="1854.5">232064</text></g>
</g>
</svg>
